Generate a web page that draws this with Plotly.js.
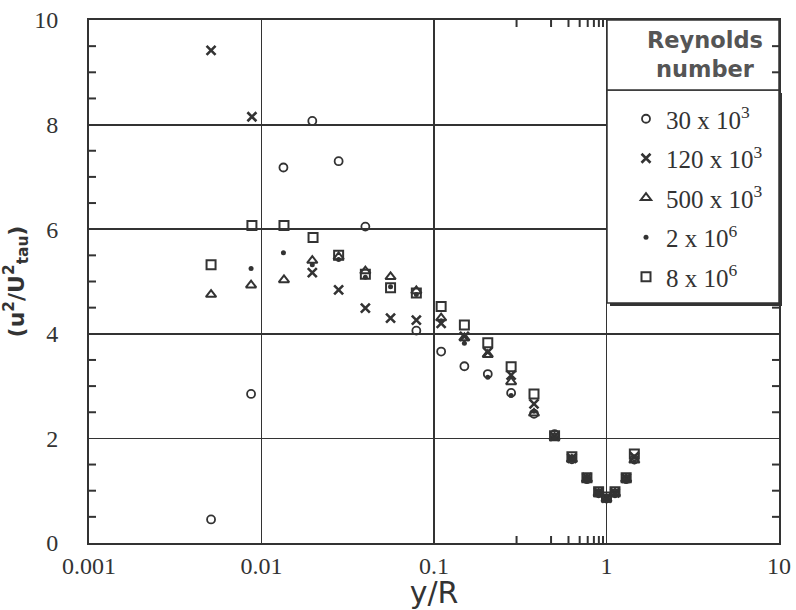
<!DOCTYPE html>
<html>
<head>
<meta charset="utf-8">
<script src="https://cdn.plot.ly/plotly-3.0.1.min.js"></script>
<style>html,body{margin:0;padding:0;background:#fff;}#chart{width:796px;height:610px;}</style>
</head>
<body>
<div id="chart"></div>
<script>
// ---- data ----
const seriesNames = ["30 x 10<sup>3</sup>", "120 x 10<sup>3</sup>", "500 x 10<sup>3</sup>", "2 x 10<sup>6</sup>", "8 x 10<sup>6</sup>"];

const re30_x = [0.0051, 0.0087, 0.0134, 0.0197, 0.028, 0.040, 0.079, 0.11, 0.15, 0.205, 0.28, 0.38, 0.5, 0.63, 0.77, 0.9, 1.0, 1.12, 1.3, 1.45];
const re30_y = [0.45, 2.85, 7.18, 8.07, 7.30, 6.05, 4.06, 3.66, 3.38, 3.23, 2.87, 2.47, 2.08, 1.60, 1.22, 0.95, 0.85, 0.95, 1.22, 1.60];

const re120_x = [0.0051, 0.0088, 0.0197, 0.028, 0.040, 0.056, 0.079, 0.11, 0.15, 0.205, 0.28, 0.38, 0.5, 0.63, 0.77, 0.9, 1.0, 1.12, 1.3, 1.45];
const re120_y = [9.42, 8.15, 5.17, 4.84, 4.49, 4.30, 4.26, 4.20, 3.95, 3.65, 3.21, 2.66, 2.04, 1.62, 1.25, 0.97, 0.86, 0.96, 1.24, 1.65];

const re500_x = [0.0051, 0.0087, 0.0135, 0.0197, 0.028, 0.040, 0.056, 0.079, 0.11, 0.15, 0.205, 0.28, 0.38, 0.5, 0.63, 0.77, 0.9, 1.0, 1.12, 1.3, 1.45];
const re500_y = [4.75, 4.93, 5.03, 5.40, 5.47, 5.20, 5.09, 4.82, 4.30, 3.92, 3.60, 3.08, 2.48, 2.02, 1.60, 1.22, 0.95, 0.84, 0.95, 1.22, 1.58];

const re2e6_x = [0.0087, 0.0134, 0.0197, 0.028, 0.040, 0.056, 0.079, 0.11, 0.15, 0.205, 0.28, 0.38, 0.5, 0.63, 0.77, 0.9, 1.0, 1.12, 1.3, 1.45];
const re2e6_y = [5.25, 5.55, 5.32, 5.42, 5.08, 4.90, 4.75, 4.25, 3.82, 3.17, 2.82, 2.52, 2.00, 1.58, 1.20, 0.94, 0.83, 0.94, 1.20, 1.55];

const re8e6_x = [0.0051, 0.0088, 0.0135, 0.0199, 0.028, 0.040, 0.056, 0.079, 0.11, 0.15, 0.205, 0.28, 0.38, 0.5, 0.63, 0.77, 0.9, 1.0, 1.12, 1.3, 1.45];
const re8e6_y = [5.32, 6.07, 6.07, 5.84, 5.50, 5.14, 4.88, 4.78, 4.52, 4.17, 3.83, 3.37, 2.85, 2.05, 1.65, 1.25, 0.98, 0.88, 0.98, 1.25, 1.70];

const xTickVals = [0.001, 0.01, 0.1, 1, 10];
const xTickText = ["0.001", "0.01", "0.1", "1", "10"];
const yTickVals = [0, 2, 4, 6, 8, 10];
const yTickText = ["0", "2", "4", "6", "8", "10"];

// minor tick positions: digits 2..9 in each decade (x), every 0.5 (y)
const xMinor = [];
for (let i = 0; i < xTickVals.length - 1; i++) {
  for (let d = 2; d <= 9; d++) xMinor.push(+(xTickVals[i] * d).toPrecision(6));
}
const yMinor = [];
for (let v = 0.5; v < 10; v += 0.5) if (v % 2 !== 0) yMinor.push(v);

// ---- styling ----
const ink = '#333';
function mk(name, xs, ys, symbol, size, lw, grp) {
  return {
    type: 'scatter', mode: 'markers', name: name, x: xs, y: ys,
    legendgroup: grp,
    marker: {symbol: symbol, size: size, color: ink, line: {color: ink, width: lw}},
    hoverinfo: 'x+y'
  };
}
const traces = [
  mk(seriesNames[0], re30_x, re30_y, 'circle-open', 8, 1.8, 'a'),
  mk(seriesNames[1], re120_x, re120_y, 'x-thin-open', 9, 2.6, 'b'),
  mk(seriesNames[2], re500_x, re500_y, 'triangle-up-open', 9, 2, 'c'),
  mk(seriesNames[3], re2e6_x, re2e6_y, 'circle', 5, 0, 'd'),
  mk(seriesNames[4], re8e6_x, re8e6_y, 'square-open', 9, 2, 'e')
];

const L = 89, R = 779, T = 20, B = 543;
const W = R - L, H = B - T;
const px = v => (v - L) / W;
const py = v => (B - v) / H;

// legend/header boxes
const shapes = [
  {type: 'rect', xref: 'paper', yref: 'paper', layer: 'above',
   x0: px(607) + 3 / W, x1: px(779) + 3 / W, y0: py(303) - 3 / H, y1: py(90) - 3 / H,
   fillcolor: '#333', line: {width: 0}},
  {type: 'rect', xref: 'paper', yref: 'paper', layer: 'above',
   x0: px(607), x1: px(779), y0: py(303), y1: py(90),
   fillcolor: '#fff', line: {color: '#333', width: 1.5}},
  {type: 'rect', xref: 'paper', yref: 'paper', layer: 'above',
   x0: px(607), x1: px(779), y0: py(90), y1: py(20),
   fillcolor: '#fff', line: {color: '#333', width: 1.5}}
];
// minor tick marks (inside, mirrored); shapes on a log axis take log10 positions
const tl = 7;
const tickLine = {color: ink, width: 2};
xMinor.forEach(v => {
  const lv = Math.log10(v);
  shapes.push({type: 'line', xref: 'x', yref: 'paper', layer: 'above', x0: lv, x1: lv, y0: 0, y1: tl / H, line: tickLine});
  shapes.push({type: 'line', xref: 'x', yref: 'paper', layer: 'above', x0: lv, x1: lv, y0: 1, y1: 1 - tl / H, line: tickLine});
});
yMinor.forEach(v => {
  shapes.push({type: 'line', xref: 'paper', yref: 'y', layer: 'above', x0: 0, x1: tl / W, y0: v, y1: v, line: tickLine});
  if (v < 4.6 || v > 8.7) {
    shapes.push({type: 'line', xref: 'paper', yref: 'y', layer: 'above', x0: 1, x1: 1 - tl / W, y0: v, y1: v, line: tickLine});
  }
});

const layout = {
  width: 796, height: 610,
  margin: {l: L, r: 796 - R, t: T, b: 610 - B},
  paper_bgcolor: '#fff', plot_bgcolor: '#fff',
  showlegend: true,
  xaxis: {
    type: 'log', range: [-3, 1],
    tickmode: 'array', tickvals: xTickVals, ticktext: xTickText,
    ticks: 'inside', ticklen: 8, tickwidth: 1.5, tickcolor: ink,
    showgrid: true, gridcolor: '#333', gridwidth: 1.8,
    showline: true, linecolor: '#333', linewidth: 2, mirror: 'ticks',
    tickfont: {family: 'Liberation Serif, serif', size: 24, color: '#333'},
    title: {text: 'y/R', font: {family: 'DejaVu Sans, sans-serif', size: 30, color: '#333'}, standoff: 5}
  },
  yaxis: {
    range: [0, 10],
    tickmode: 'array', tickvals: yTickVals, ticktext: yTickText,
    ticks: 'inside', ticklen: 8, tickwidth: 1.5, tickcolor: ink,
    showgrid: true, gridcolor: '#333', gridwidth: 1.8,
    showline: true, linecolor: '#333', linewidth: 2, mirror: 'ticks',
    tickfont: {family: 'Liberation Serif, serif', size: 24, color: '#333'}, ticklabelstandoff: 24,
    title: {text: '(u<sup>2</sup>/U<sup>2</sup><sub>tau</sub>)', font: {family: 'DejaVu Sans, sans-serif', size: 22, color: '#333', weight: 'bold'}, standoff: 4}
  },
  legend: {
    x: px(626), y: py(96), xanchor: 'left', yanchor: 'top',
    bgcolor: 'rgba(0,0,0,0)', borderwidth: 0,
    font: {family: 'Liberation Serif, serif', size: 25, color: '#333'},
    tracegroupgap: 4, itemclick: false
  },
  shapes: shapes,
  annotations: [
    {xref: 'paper', yref: 'paper', x: px(705), y: py(55), xanchor: 'center', yanchor: 'middle',
     text: 'Reynolds<br>number', showarrow: false, align: 'center',
     font: {family: 'DejaVu Sans, sans-serif', size: 22.5, color: '#555', weight: 'bold'}}
  ]
};

Plotly.newPlot('chart', traces, layout, {displayModeBar: false, staticPlot: true});
</script>
</body>
</html>
